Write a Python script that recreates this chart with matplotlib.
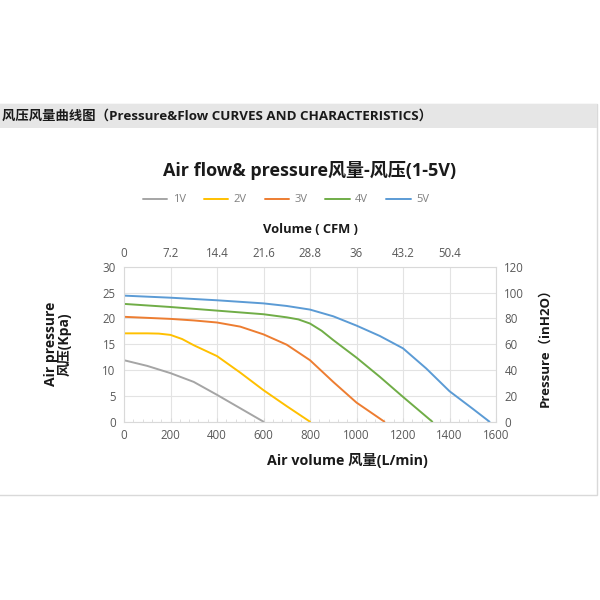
import matplotlib
matplotlib.use("Agg")
import matplotlib.pyplot as plt
from matplotlib.patches import Rectangle
from matplotlib.ticker import MultipleLocator

plt.rcParams['font.family'] = ['Open Sans', 'Noto Sans CJK SC', 'DejaVu Sans']

# ---- data ----
flow_1v = [0, 100, 200, 300, 400, 500, 600]
pres_1v = [11.9, 10.8, 9.4, 7.7, 5.2, 2.6, 0.0]

flow_2v = [0, 100, 150, 200, 250, 300, 400, 500, 600, 700, 800]
pres_2v = [17.1, 17.1, 17.05, 16.8, 16.0, 14.8, 12.7, 9.5, 6.1, 3.0, 0.0]

flow_3v = [0, 200, 300, 400, 500, 600, 700, 800, 900, 1000, 1120]
pres_3v = [20.3, 19.9, 19.6, 19.2, 18.4, 16.9, 14.9, 11.9, 7.7, 3.7, 0.0]

flow_4v = [0, 200, 400, 600, 700, 750, 800, 850, 900, 1000, 1100, 1200, 1326]
pres_4v = [22.8, 22.2, 21.5, 20.8, 20.2, 19.8, 19.0, 17.6, 15.8, 12.4, 8.7, 4.8, 0.0]

flow_5v = [0, 200, 400, 600, 700, 800, 900, 1000, 1100, 1200, 1300, 1400, 1500, 1572]
pres_5v = [24.4, 24.0, 23.5, 22.9, 22.4, 21.7, 20.4, 18.6, 16.6, 14.2, 10.3, 5.9, 2.5, 0.0]

series_names = ['1V', '2V', '3V', '4V', '5V']
series_colors = ['#A5A5A5', '#FFC000', '#ED7D31', '#70AD47', '#5B9BD5']

bottom_ticks = [0, 200, 400, 600, 800, 1000, 1200, 1400, 1600]
top_tick_pos = [0, 200, 400, 600, 800, 1000, 1200, 1400]
top_tick_labels = ['0', '7.2', '14.4', '21.6', '28.8', '36', '43.2', '50.4']
left_ticks = [0, 5, 10, 15, 20, 25, 30]
right_ticks = [0, 20, 40, 60, 80, 100, 120]

W, H = 600, 600
fig = plt.figure(figsize=(6, 6), dpi=100)
fig.patch.set_facecolor('white')

def fx(px):
    return px / W

def fy(py):
    return 1 - py / H

# panel frame and header
fig.patches.append(Rectangle((fx(-2), fy(495)), fx(599), fy(104) - fy(495),
                             transform=fig.transFigure, facecolor='white',
                             edgecolor='#D9D9D9', linewidth=1.0, zorder=-10))
fig.patches.append(Rectangle((fx(-2), fy(128)), fx(599), fy(104) - fy(128),
                             transform=fig.transFigure, facecolor='#E6E6E6',
                             edgecolor='none', zorder=-9))
fig.text(fx(2), fy(116), '风压风量曲线图（Pressure&Flow CURVES AND CHARACTERISTICS）',
         fontsize=9.6, fontweight='bold', color='#1a1a1a', va='center', ha='left')

# chart title
fig.text(fx(310), fy(170), 'Air flow& pressure风量-风压(1-5V)', fontsize=13.0,
         fontweight='bold', color='#1a1a1a', ha='center', va='center')

# axes
ax = fig.add_axes([fx(124), fy(421.7), fx(496) - fx(124), fy(266.7) - fy(421.7)])
ax.set_zorder(1)
for name, xs, ys, c in zip(series_names,
                           [flow_1v, flow_2v, flow_3v, flow_4v, flow_5v],
                           [pres_1v, pres_2v, pres_3v, pres_4v, pres_5v],
                           series_colors):
    ax.plot(xs, ys, color=c, lw=1.4, label=name, solid_capstyle='round',
            solid_joinstyle='round')

ax.set_xlim(0, 1600)
ax.set_ylim(0, 30)
ax.set_xticks(bottom_ticks)
ax.set_yticks(left_ticks)
ax.xaxis.set_minor_locator(MultipleLocator(40))
ax.grid(True, color='#E3E3E3', lw=0.8)
ax.set_axisbelow(True)
for s in ax.spines.values():
    s.set_color('#D9D9D9')
ax.tick_params(axis='both', which='both', colors='#D9D9D9', labelcolor='#595959',
               labelsize=8.3)
ax.tick_params(axis='x', which='major', length=3, direction='in', pad=5)
ax.tick_params(axis='x', which='minor', length=2, direction='in')
ax.tick_params(axis='y', length=0, pad=6)

fig.text(fx(347), fy(461), 'Air volume 风量(L/min)', fontsize=10.3, fontweight='bold',
         color='#1a1a1a', ha='center', va='center')
ax.set_ylabel('Air pressure\n风压(Kpa)', fontsize=10, fontweight='bold',
              color='#1a1a1a', labelpad=22, linespacing=1.0)

# right axis
axr = ax.twinx()
axr.set_ylim(0, 120)
axr.set_yticks(right_ticks)
axr.tick_params(axis='y', length=0, labelcolor='#595959', labelsize=8.3, pad=6)
for s in axr.spines.values():
    s.set_visible(False)
axr.set_ylabel('Pressure（inH2O）', fontsize=9.5, fontweight='bold',
               color='#1a1a1a', labelpad=10)

# top axis
axt = ax.twiny()
axt.set_xlim(0, 1600)
axt.set_xticks(top_tick_pos)
axt.set_xticklabels(top_tick_labels)
axt.tick_params(axis='x', length=0, labelcolor='#595959', labelsize=8.3, pad=5)
for s in axt.spines.values():
    s.set_visible(False)
axt.set_xlabel('Volume ( CFM )', fontsize=9.3, fontweight='bold', color='#1a1a1a',
               labelpad=10)

# legend
handles, labels = ax.get_legend_handles_labels()
fig.legend(handles, labels, loc='center', bbox_to_anchor=(fx(286), fy(200)),
           ncol=5, frameon=False, fontsize=8, labelcolor='#7f7f7f',
           handlelength=2.2, columnspacing=1.6, handletextpad=0.5)

fig.savefig('out.png', dpi=100, facecolor='white')
